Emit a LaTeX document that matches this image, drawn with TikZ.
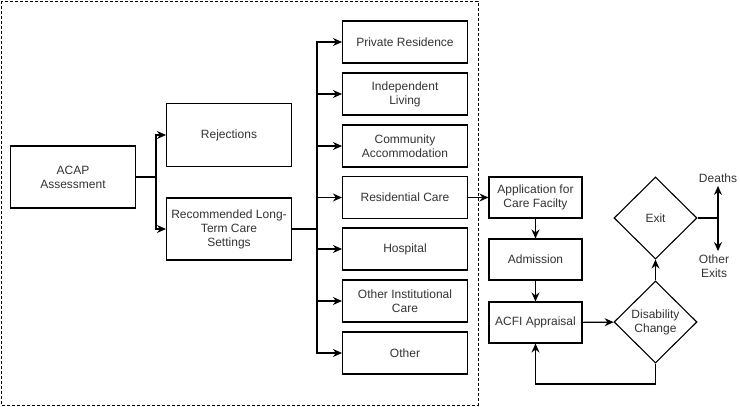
\documentclass[tikz,border=0pt]{standalone}
\usepackage{fontspec}
\setmainfont{Liberation Sans}
\usetikzlibrary{shapes.geometric,arrows.meta}

\begin{document}
\begin{tikzpicture}[x=1pt,y=-1pt,
    every node/.style={font=\fontsize{12}{14}\selectfont, text=black!80, align=center},
    box/.style={draw, line width=1.1pt, inner sep=1pt,
      minimum width=125pt, minimum height=62pt},
    place/.style={box, minimum height=42pt},
    stage/.style={box, minimum width=93pt, minimum height=41pt},
    choice/.style={draw, diamond, line width=1.1pt, inner sep=0pt,
      minimum width=83pt, minimum height=82pt},
    arr/.style={line width=1.1pt, -{Stealth[length=9pt,width=8pt]}},
    link/.style={line width=1.1pt}]
    \useasboundingbox (0,0) rectangle (740,407);

    % Assessment boundary
    \draw[line width=0.9pt, dash pattern=on 3pt off 2pt] (1,1) rectangle (478,405);

    % Assessment
    \node[box] (acap) at (73,177) {ACAP\\Assessment};
    \node[box, minimum height=63pt] (rej) at (229,135) {Rejections};
    \node[box] (rec) at (229,229) {Recommended Long-\\Term Care\\Settings};

    % Settings
    \node[place] (priv) at (405,42) {Private Residence};
    \node[place] (indep) at (405,94) {Independent\\Living};
    \node[place] (comm) at (405,146) {Community\\Accommodation};
    \node[place] (resid) at (405,197.5) {Residential Care};
    \node[place] (hosp) at (405,249) {Hospital};
    \node[place] (inst) at (405,301) {Other Institutional\\Care};
    \node[place] (other) at (405,353) {Other};

    % Care facility
    \node[stage] (appl) at (535.5,197.5) {Application for\\Care Facilty};
    \node[stage] (adm) at (535.5,259.5) {Admission};
    \node[stage] (acfi) at (535.5,322.5) {ACFI Appraisal};
    \node[choice] (dis) at (655.5,322) {Disability\\Change};
    \node[choice] (exit) at (655.5,218) {Exit};
    \node (deaths) at (718,178) {Deaths};
    \node (exits) at (714,266) {Other\\Exits};

    % Branch points
    \coordinate (split1) at (156,177);
    \coordinate (split2) at (317,229);
    \coordinate (split3) at (718,218);
    \coordinate (loop) at (655.5,384);

    % Connectors
    \draw[link] (acap.east) -- (split1);
    \draw[arr] (split1) |- (rej.west);
    \draw[arr] (split1) |- (rec.west);
    \draw[link] (rec.east) -- (split2);
    \foreach \n in {priv,indep,comm,resid,hosp,inst,other}
      \draw[arr] (split2) |- (\n.west);
    \draw[arr] (resid.east) -- (appl.west);
    \draw[arr] (appl) -- (adm);
    \draw[arr] (adm) -- (acfi);
    \draw[arr] (acfi) -- (dis);
    \draw[arr] (dis) -- (exit);
    \draw[arr] (dis.south) -- (loop) -| (acfi.south);
    \draw[link] (exit.east) -- (split3);
    \draw[arr] (split3) -- (deaths.south -| split3);
    \draw[arr] (split3) -- (exits.north -| split3);
\end{tikzpicture}
\end{document}
